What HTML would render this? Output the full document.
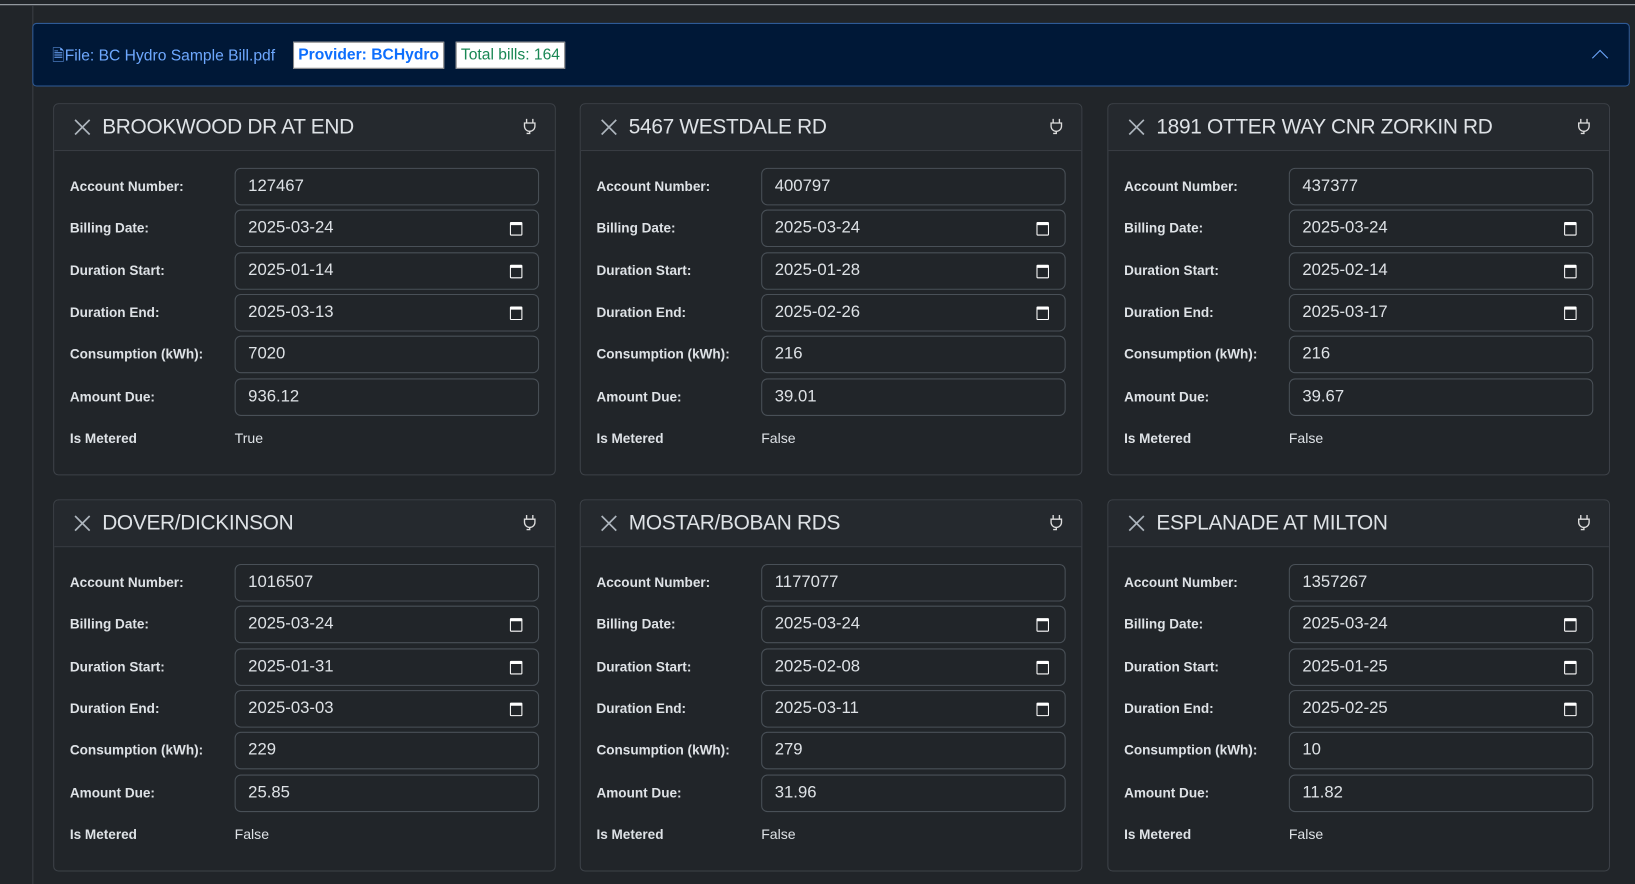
<!DOCTYPE html>
<html><head><meta charset="utf-8"><style>
html,body{margin:0;padding:0;background:#212529;width:1635px;height:884px;overflow:hidden;font-family:"Liberation Sans",Arial,sans-serif}
#w{position:absolute;left:0;top:0;width:1568px;height:848px;transform:scale(1.04273,1.04245);transform-origin:0 0;background:#212529}
.topline{position:absolute;left:0;top:4px;width:1568px;height:1px;background:#aab0b6}
.vline{position:absolute;left:31px;top:5px;width:1px;height:843px;background:#3a3f45}
.hdr{position:absolute;left:31px;top:22px;width:1530px;height:59px;background:#001837;border:1px solid #2e5a96;border-radius:4px}
.hdr .f{position:absolute;left:18px;top:20px;color:#6ea8fe;font-size:15px}
.b1{position:absolute;left:249px;top:17px;height:24px;padding:0 4px;background:#fff;border:1px solid #888;color:#0d6efd;font-weight:bold;font-size:15px;line-height:24px}
.b2{position:absolute;left:405px;top:17px;height:24px;padding:0 4px;background:#fff;border:1px solid #888;color:#198754;font-size:15px;line-height:24px}
.chev{position:absolute;right:22px;top:27px;width:10px;height:10px;border-left:1.5px solid #6ea8fe;border-top:1.5px solid #6ea8fe;transform:rotate(45deg)}
.card{position:absolute;width:480px;height:355px;border:1px solid #3d4248;border-radius:5px;background:#212529}
.ch{height:44px;border-bottom:1px solid #3d4248;background:#25292e;border-radius:5px 5px 0 0;position:relative}
.ch svg.x{position:absolute;left:19px;top:14px}
.ch .t{position:absolute;left:46px;top:11px;color:#dee2e6;font-size:20px;letter-spacing:-0.3px}
.ch svg.p{position:absolute;right:18px;top:13px}
.row{position:absolute;left:15px;width:450px;height:36px}
.row .l{position:absolute;left:0;top:10px;color:#dee2e6;font-weight:bold;font-size:13px}
.row .i{position:absolute;left:158px;top:0;width:290px;height:34px;border:1px solid #495057;border-radius:6px;background:#212529}
.row .i span{position:absolute;left:12px;top:8px;color:#dee2e6;font-size:16px}
.cal{position:absolute;right:15px;top:11px;width:10px;height:9px;border:1.5px solid #fff;border-top-width:3px;border-radius:1px}
.row .v{position:absolute;left:158px;top:10px;color:#dee2e6;font-size:13.5px}
</style></head><body><div id="w">
<div class="topline"></div><div class="vline"></div>
<div class="hdr"><div class="f">&#128462;File: BC Hydro Sample Bill.pdf</div><div class="b1">Provider: BCHydro</div><div class="b2">Total bills: 164</div><div class="chev"></div></div>
<div id="cards"></div>
</div>
<script>
var d=[["BROOKWOOD DR AT END","127467","2025-03-24","2025-01-14","2025-03-13","7020","936.12","True"],
["5467 WESTDALE RD","400797","2025-03-24","2025-01-28","2025-02-26","216","39.01","False"],
["1891 OTTER WAY CNR ZORKIN RD","437377","2025-03-24","2025-02-14","2025-03-17","216","39.67","False"],
["DOVER/DICKINSON","1016507","2025-03-24","2025-01-31","2025-03-03","229","25.85","False"],
["MOSTAR/BOBAN RDS","1177077","2025-03-24","2025-02-08","2025-03-11","279","31.96","False"],
["ESPLANADE AT MILTON","1357267","2025-03-24","2025-01-25","2025-02-25","10","11.82","False"]];
var xs=[51,556,1062],ys=[99,479],labs=["Account Number:","Billing Date:","Duration Start:","Duration End:","Consumption (kWh):","Amount Due:"];
var h="";
var X='<svg class="x" width="16" height="16"><path d="M1 1L15 15M15 1L1 15" stroke="#adb5bd" stroke-width="1.6"/></svg>';
var P='<svg class="p" width="12" height="16"><path d="M3 1v4M9 1v4M1 5h10v3a5 5 0 0 1-10 0z" stroke="#ddd" stroke-width="1.3" fill="none"/><path d="M6 13v2H3" stroke="#ddd" stroke-width="1.3" fill="none"/></svg>';
d.forEach(function(c,k){var x=xs[k%3],y=ys[Math.floor(k/3)];
h+='<div class="card" style="left:'+x+'px;top:'+y+'px"><div class="ch">'+X+'<span class="t">'+c[0]+'</span>'+P+'</div>';
for(var r=0;r<6;r++){h+='<div class="row" style="top:'+(61+r*40.3)+'px"><div class="l">'+labs[r]+'</div><div class="i"><span>'+c[r+1]+'</span>'+((r>=1&&r<=3)?'<div class="cal"></div>':'')+'</div></div>';}
h+='<div class="row" style="top:'+(61+6*40.3)+'px"><div class="l">Is Metered</div><div class="v">'+c[7]+'</div></div></div>';});
document.getElementById("cards").innerHTML=h;
</script>
</body></html>
